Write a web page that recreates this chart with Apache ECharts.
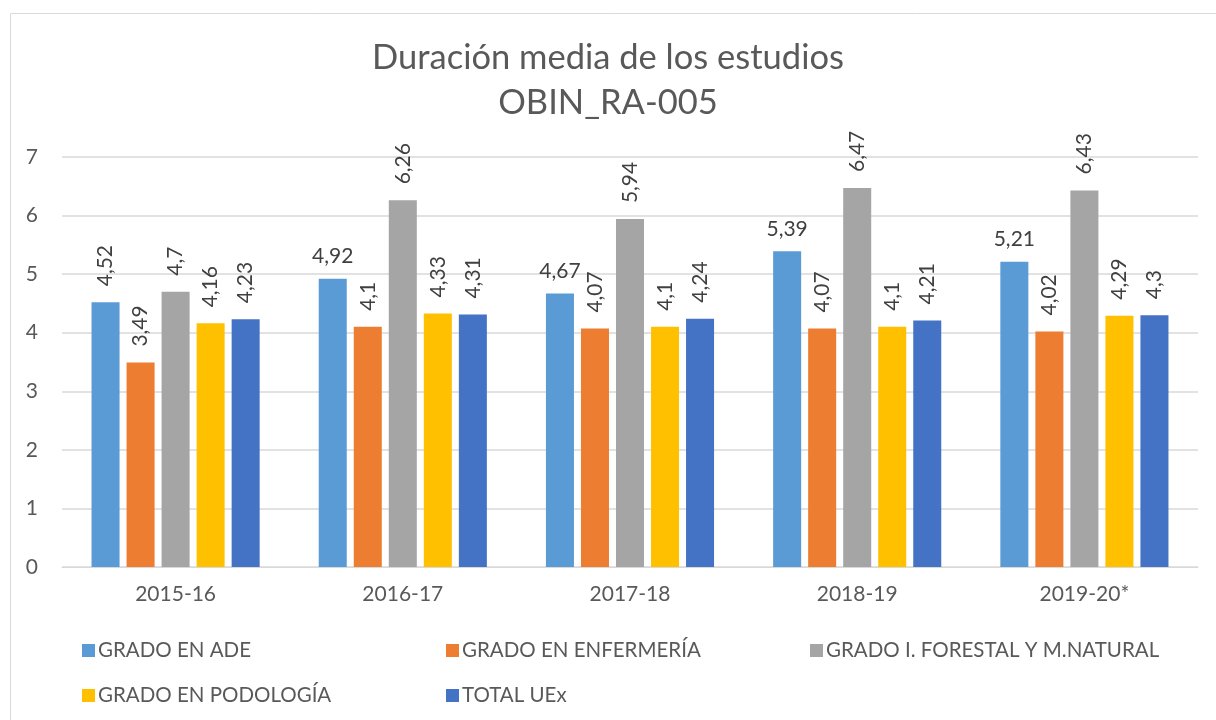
<!DOCTYPE html>
<html><head><meta charset="utf-8">
<script src="https://cdn.jsdelivr.net/npm/echarts@6/dist/echarts.min.js"></script>
<style>html,body{margin:0;padding:0;background:#fff}#c{width:1216px;height:720px}</style>
</head><body><div id="c"></div>
<script>
const categories = ['2015-16','2016-17','2017-18','2018-19','2019-20*'];
const seriesNames = ['GRADO EN ADE','GRADO EN ENFERMERÍA','GRADO I. FORESTAL Y M.NATURAL','GRADO EN PODOLOGÍA','TOTAL UEx'];
const ade = [4.52, 4.92, 4.67, 5.39, 5.21];
const enfermeria = [3.49, 4.1, 4.07, 4.07, 4.02];
const forestal = [4.7, 6.26, 5.94, 6.47, 6.43];
const podologia = [4.16, 4.33, 4.1, 4.1, 4.29];
const total = [4.23, 4.31, 4.24, 4.21, 4.3];
const yTicks = [0,1,2,3,4,5,6,7];
const titleLines = ['Duración media de los estudios','OBIN_RA-005'];

const colors = ['#5B9BD5','#ED7D31','#A5A5A5','#FFC000','#4472C4'];
const allValues = [ade, enfermeria, forestal, podologia, total];
const FONT = 'Lato';
const fmt = v => String(v).replace('.', ',');
const rotLabel = {show:true, position:'top', rotate:90, align:'left', verticalAlign:'middle', distance:16,
  fontFamily:FONT, fontSize:21, color:'#404040', formatter:p=>fmt(p.value)};
const horLabel = {show:true, position:'top', rotate:0, align:'center', verticalAlign:'bottom', distance:12,
  fontFamily:FONT, fontSize:21, color:'#404040', formatter:p=>fmt(p.value)};

const series = allValues.map((vals, si) => ({
  name: seriesNames[si], type:'bar', barGap:'25%', barCategoryGap:'26%',
  itemStyle:{color:colors[si]},
  label: rotLabel,
  data: vals.map((v, i) => (si === 0 && i > 0) ? {value:v, label:horLabel} : v)
}));

const legendCommon = {orient:'vertical', itemWidth:13, itemHeight:13, itemGap:24, icon:'rect', top:635,
  textStyle:{fontFamily:FONT, fontSize:20.5, color:'#595959', padding:[0,0,0,-2]}};

const chart = echarts.init(document.getElementById('c'));
chart.setOption({
  animation:false,
  color: colors,
  title:{text:titleLines.join('\n'), left:'center', top:30,
    textStyle:{fontFamily:FONT, fontSize:34.5, fontWeight:'normal', color:'#595959', lineHeight:45}},
  graphic:[{type:'rect', shape:{x:10.5, y:13.5, width:1220, height:720}, style:{fill:'none', stroke:'#d9d9d9', lineWidth:1}}],
  legend:[
    Object.assign({left:77, data:[seriesNames[0], seriesNames[3]]}, legendCommon),
    Object.assign({left:441, data:[seriesNames[1], seriesNames[4]]}, legendCommon),
    Object.assign({left:805, data:[seriesNames[2]]}, legendCommon)
  ],
  grid:{left:62, right:18, top:157, bottom:153},
  xAxis:{type:'category', data:categories,
    axisLine:{lineStyle:{color:'#d9d9d9'}}, axisTick:{show:false},
    axisLabel:{fontFamily:FONT, fontSize:21, color:'#595959', margin:17}},
  yAxis:{type:'value', min:yTicks[0], max:yTicks[yTicks.length-1], interval:1,
    axisLine:{show:false}, axisTick:{show:false},
    splitLine:{lineStyle:{color:'#d9d9d9', width:1.5}},
    axisLabel:{fontFamily:FONT, fontSize:21, color:'#595959', margin:24}},
  series: series
});
</script></body></html>
